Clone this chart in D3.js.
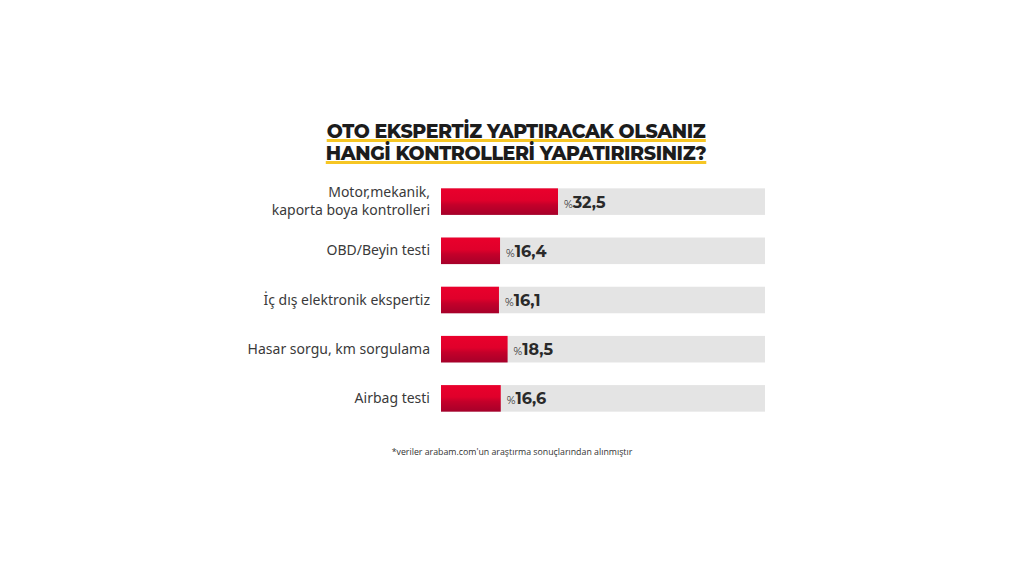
<!DOCTYPE html>
<html><head><meta charset="utf-8">
<script src="https://cdn.jsdelivr.net/npm/d3@7"></script>
<style>body{margin:0;background:#fff}svg{display:block}</style>
</head><body><svg id="c" width="1024" height="576"></svg>
<script>
const titleLines = ["OTO EKSPERTİZ YAPTIRACAK OLSANIZ", "HANGİ KONTROLLERİ YAPATIRIRSINIZ?"];
const categories = [["Motor,mekanik,", "kaporta boya kontrolleri"], ["OBD/Beyin testi"], ["İç dış elektronik ekspertiz"], ["Hasar sorgu, km sorgulama"], ["Airbag testi"]];
const values = [32.5, 16.4, 16.1, 18.5, 16.6];
const valueLabels = ["32,5", "16,4", "16,1", "18,5", "16,6"];
const footnote = "*veriler arabam.com'un araştırma sonuçlarından alınmıştır";

const svg = d3.select("#c");
const defs = svg.append("defs");
const g = defs.append("linearGradient").attr("id","rg").attr("x1",0).attr("x2",0).attr("y1",0).attr("y2",1);
g.append("stop").attr("offset","0%").attr("stop-color","#ea002c");
g.append("stop").attr("offset","45%").attr("stop-color","#e0002b");
g.append("stop").attr("offset","62%").attr("stop-color","#c4002a");
g.append("stop").attr("offset","100%").attr("stop-color","#a6002a");

// title
const tg = svg.append("g");
titleLines.forEach((t, i) => {
  const y = 138 + i * 22;
  const txt = tg.append("text").attr("x", 516).attr("y", y).attr("text-anchor","middle")
    .attr("font-family","Montserrat, 'Open Sans', sans-serif").attr("font-weight", 800)
    .attr("font-size", 19).attr("fill","#1c1c1c").attr("letter-spacing", -0.4).text(t);
  const bb = txt.node().getBBox();
  tg.insert("rect", "text").attr("x", bb.x).attr("y", y + 1).attr("width", bb.width).attr("height", 3).attr("fill","#f6c624");
});

const x = d3.scaleLinear().domain([0, 90]).range([441, 765]);
const y = d3.scaleBand().domain(d3.range(values.length)).range([178, 421]).paddingInner(0.46).paddingOuter(0.2);

const rows = svg.append("g").selectAll("g").data(values).join("g");
rows.append("rect").attr("x", x(0)).attr("y", (d,i)=>y(i)+0.5).attr("width", x.range()[1]-x(0)).attr("height", y.bandwidth()).attr("fill","#e4e4e4");
rows.append("rect").attr("x", x(0)).attr("y", (d,i)=>y(i)+0.5).attr("width", d=>x(d)-x(0)).attr("height", y.bandwidth()).attr("fill","url(#rg)");
const vt = rows.append("text").attr("x", d=>x(d)+6).attr("y", (d,i)=>y(i)+y.bandwidth()/2+6.5)
  .attr("font-family","Montserrat, 'Open Sans', sans-serif").attr("fill","#2a2a2a");
vt.append("tspan").attr("font-size", 10.5).text("%");
vt.append("tspan").attr("font-size", 16).attr("font-weight", 700).text((d,i)=>valueLabels[i]);

rows.each(function(d, i){
  const lines = categories[i];
  const cy = y(i) + y.bandwidth()/2;
  const t = d3.select(this).append("text").attr("text-anchor","end").attr("x", 430)
    .attr("font-family","'Noto Sans', 'Open Sans', sans-serif").attr("font-size", 14).attr("fill","#3a3a3a");
  lines.forEach((l, k) => {
    t.append("tspan").attr("x", 430).attr("y", cy + 5 + (k - (lines.length-1)/2) * 18).text(l);
  });
});

svg.append("text").attr("x", 512).attr("y", 455).attr("text-anchor","middle")
  .attr("font-family","'Open Sans', sans-serif").attr("font-size", 8.8).attr("fill","#333").text(footnote);
</script></body></html>
